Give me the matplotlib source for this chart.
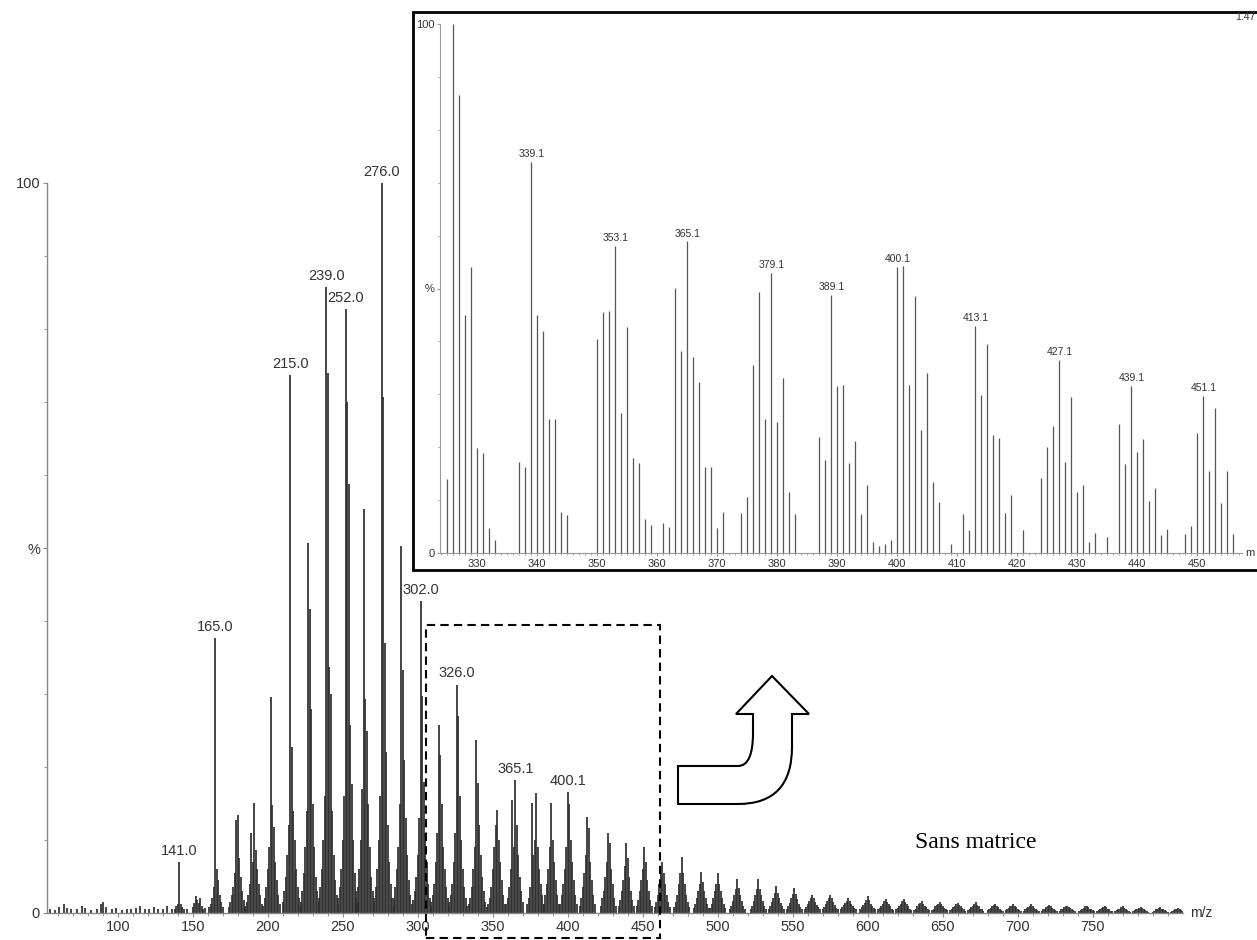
import matplotlib
matplotlib.use('Agg')
import matplotlib.pyplot as plt
import numpy as np
from matplotlib.patches import Rectangle, PathPatch
from matplotlib.path import Path

# ---- main spectrum (Sans matrice) ----
# low-mass baseline noise
noise_mz = [55, 58, 61, 64, 66, 69, 73, 76, 78, 82, 86, 89, 90, 92, 96, 99, 103, 106,
            109, 112, 115, 118, 121, 124, 127, 130, 133, 136, 146, 158]
noise_int = [0.6, 0.4, 0.8, 1.2, 0.7, 0.5, 0.6, 0.9, 0.7, 0.4, 0.6, 1.3, 1.5, 0.8, 0.5,
             0.7, 0.4, 0.6, 0.5, 0.7, 0.9, 0.6, 0.5, 0.8, 0.6, 0.5, 0.9, 0.6, 0.5, 0.7]

# clusters: first m/z of each cluster, then unit-spaced line intensities (%)
cluster_start = [138, 150, 161, 174, 185, 197, 210, 222, 234, 247, 259, 271, 284, 297,
                 309, 321, 334, 347, 359, 373, 384, 395, 408, 422, 434, 446, 458, 471,
                 484, 495, 508, 522, 534, 546, 558, 570, 582, 595, 607, 619, 631, 643,
                 655, 667, 680, 692, 704, 716, 728, 741, 753, 765, 777, 790, 802]
cluster_int = [
    [0.6, 0.9, 1.2, 7.0, 1.3, 0.8, 0.5],
    [0.8, 1.4, 2.3, 1.8, 1.4, 2.0, 1.0, 0.6],
    [0.8, 1.2, 2.0, 3.5, 37.7, 6.0, 4.5, 2.5, 1.5, 0.8],
    [0.8, 1.5, 2.5, 3.5, 5.5, 12.7, 13.4, 7.5, 5.0, 3.0, 1.8, 1.0],
    [0.8, 1.5, 2.5, 4.0, 11.0, 7.0, 15.1, 8.6, 6.0, 4.0, 2.5, 1.2],
    [1.0, 2.0, 3.5, 6.0, 9.0, 29.6, 14.8, 11.8, 7.0, 4.5, 2.5, 1.2],
    [1.5, 3.0, 5.0, 8.0, 12.0, 73.7, 22.7, 14.0, 10.0, 6.0, 3.5, 2.0, 1.0],
    [1.5, 3.0, 5.5, 9.0, 14.0, 50.7, 41.7, 28.0, 15.0, 9.0, 5.0, 3.0, 1.5],
    [2.0, 3.5, 6.0, 10.0, 16.0, 85.7, 74.0, 33.7, 30.0, 14.0, 8.0, 4.5, 2.5, 1.2],
    [2.0, 3.5, 6.0, 10.0, 16.0, 82.7, 70.0, 58.7, 25.7, 17.7, 10.0, 5.5, 3.0, 1.5],
    [2.0, 3.5, 6.0, 10.0, 17.0, 55.3, 29.3, 25.0, 15.0, 9.0, 5.0, 3.0, 1.5],
    [2.0, 3.5, 6.0, 10.0, 16.0, 100.0, 70.7, 37.0, 22.0, 12.0, 7.0, 4.0, 2.0, 1.0],
    [2.0, 3.5, 6.0, 9.0, 15.0, 50.3, 33.3, 21.0, 13.0, 8.0, 4.5, 2.5, 1.2],
    [1.8, 3.0, 5.0, 8.0, 13.0, 42.7, 29.7, 18.0, 11.0, 7.0, 4.0, 2.0, 1.0],
    [1.5, 2.5, 4.0, 7.0, 11.0, 25.7, 21.7, 15.0, 9.0, 6.0, 3.5, 2.0, 1.0],
    [1.5, 2.5, 4.0, 7.0, 11.0, 31.3, 27.0, 16.0, 10.0, 6.0, 3.5, 2.0, 1.0],
    [1.2, 2.0, 3.5, 6.0, 9.0, 23.7, 17.8, 12.0, 8.0, 5.0, 3.0, 1.5, 0.8],
    [1.2, 2.0, 3.5, 6.0, 9.0, 12.0, 14.1, 10.0, 7.0, 4.5, 2.5, 1.2],
    [1.2, 2.0, 3.5, 6.0, 15.5, 9.0, 18.2, 12.0, 8.0, 5.0, 3.0, 1.5],
    [1.2, 2.0, 3.5, 15.1, 8.0, 10.0, 16.4, 9.0, 6.0, 4.0, 2.5, 1.2],
    [1.2, 2.5, 4.0, 6.0, 9.0, 15.1, 10.0, 7.0, 4.5, 2.5, 1.2],
    [1.2, 2.5, 4.0, 6.0, 9.0, 16.6, 15.0, 10.0, 7.0, 4.5, 2.5, 1.2],
    [1.0, 2.0, 3.5, 5.5, 8.0, 13.2, 11.6, 7.0, 4.5, 2.5, 1.2],
    [1.0, 2.0, 3.0, 5.0, 7.0, 11.0, 9.6, 6.0, 4.0, 2.0, 1.0],
    [1.0, 1.8, 3.0, 4.5, 6.5, 9.6, 7.5, 5.0, 3.0, 1.8, 1.0],
    [1.0, 1.8, 3.0, 4.5, 6.0, 9.0, 7.0, 4.5, 3.0, 1.8, 1.0],
    [0.8, 1.5, 2.5, 4.0, 5.5, 7.0, 5.5, 4.0, 2.5, 1.5, 0.8],
    [0.8, 1.5, 2.5, 4.0, 5.5, 7.7, 5.5, 4.0, 2.5, 1.5, 0.8],
    [0.7, 1.2, 2.0, 3.0, 4.0, 5.6, 4.2, 3.0, 2.0, 1.2, 0.7],
    [0.7, 1.2, 2.0, 3.0, 4.0, 5.5, 4.0, 3.0, 2.0, 1.2, 0.7],
    [0.6, 1.0, 1.7, 2.5, 3.3, 4.6, 3.4, 2.5, 1.6, 1.0, 0.6],
    [0.6, 1.0, 1.7, 2.5, 3.3, 4.6, 3.3, 2.4, 1.6, 1.0, 0.6],
    [0.6, 1.0, 1.5, 2.1, 2.8, 3.7, 2.8, 2.0, 1.4, 0.9, 0.5],
    [0.6, 0.9, 1.4, 2.0, 2.6, 3.4, 2.6, 1.9, 1.3, 0.8, 0.5],
    [0.5, 0.8, 1.2, 1.6, 2.0, 2.5, 2.0, 1.5, 1.1, 0.8, 0.5],
    [0.5, 0.8, 1.2, 1.6, 2.0, 2.5, 2.0, 1.5, 1.1, 0.7, 0.5],
    [0.5, 0.8, 1.1, 1.4, 1.7, 2.1, 1.7, 1.3, 1.0, 0.7, 0.5],
    [0.5, 0.8, 1.1, 1.4, 1.8, 2.3, 1.8, 1.3, 1.0, 0.7, 0.5],
    [0.5, 0.7, 1.0, 1.3, 1.6, 1.9, 1.5, 1.2, 0.9, 0.6, 0.4],
    [0.5, 0.7, 1.0, 1.3, 1.6, 1.9, 1.5, 1.2, 0.9, 0.6, 0.4],
    [0.4, 0.6, 0.9, 1.2, 1.4, 1.6, 1.3, 1.0, 0.8, 0.5, 0.4],
    [0.4, 0.6, 0.9, 1.1, 1.3, 1.5, 1.2, 1.0, 0.7, 0.5, 0.4],
    [0.4, 0.6, 0.8, 1.0, 1.2, 1.4, 1.1, 0.9, 0.7, 0.5, 0.3],
    [0.4, 0.6, 0.8, 1.0, 1.2, 1.5, 1.1, 0.9, 0.6, 0.5, 0.3],
    [0.4, 0.5, 0.7, 0.9, 1.1, 1.3, 1.0, 0.8, 0.6, 0.4, 0.3],
    [0.4, 0.5, 0.7, 0.9, 1.0, 1.2, 1.0, 0.8, 0.6, 0.4, 0.3],
    [0.3, 0.5, 0.7, 0.8, 1.0, 1.2, 0.9, 0.7, 0.6, 0.4, 0.3],
    [0.3, 0.5, 0.6, 0.8, 0.9, 1.1, 0.9, 0.7, 0.5, 0.4, 0.3],
    [0.3, 0.5, 0.6, 0.8, 0.9, 1.0, 0.8, 0.7, 0.5, 0.4, 0.3],
    [0.3, 0.4, 0.6, 0.7, 0.9, 1.0, 0.8, 0.6, 0.5, 0.4, 0.3],
    [0.3, 0.4, 0.5, 0.7, 0.8, 0.9, 0.8, 0.6, 0.5, 0.3, 0.3],
    [0.3, 0.4, 0.5, 0.6, 0.8, 0.9, 0.7, 0.6, 0.4, 0.3, 0.2],
    [0.3, 0.4, 0.5, 0.6, 0.7, 0.8, 0.7, 0.5, 0.4, 0.3, 0.2],
    [0.2, 0.3, 0.5, 0.6, 0.7, 0.8, 0.6, 0.5, 0.4, 0.3, 0.2],
    [0.2, 0.3, 0.4, 0.5, 0.6, 0.7, 0.5, 0.4, 0.3],
]
main_labels = [141.0, 165.0, 215.0, 239.0, 252.0, 276.0, 302.0, 326.0, 365.1, 400.1]

# ---- zoomed spectrum (inset) ----
inset_mz = [325, 326, 327, 328, 329, 330, 331, 332, 333,
            337, 338, 339, 340, 341, 342, 343, 344, 345,
            350, 351, 352, 353, 354, 355, 356, 357, 358, 359, 361, 362,
            363, 364, 365, 366, 367, 368, 369, 370, 371,
            374, 375, 376, 377, 378, 379, 380, 381, 382, 383,
            387, 388, 389, 390, 391, 392, 393, 394, 395, 396, 397, 398, 399,
            400, 401, 402, 403, 404, 405, 406, 407, 409, 411, 412,
            413, 414, 415, 416, 417, 418, 419, 421,
            424, 425, 426, 427, 428, 429, 430, 431, 432, 433, 435,
            437, 438, 439, 440, 441, 442, 443, 444, 445,
            448, 449, 450, 451, 452, 453, 454, 455, 456]
inset_int = [13.9, 100, 86.5, 44.9, 54.1, 19.9, 18.9, 4.7, 2.4,
             17.2, 16.2, 74.0, 44.9, 41.9, 25.3, 25.3, 7.8, 7.1,
             40.5, 45.6, 45.7, 58.1, 26.4, 42.7, 17.9, 17.0, 6.4, 5.2, 5.7, 4.9,
             50.1, 38.2, 58.9, 37.0, 32.3, 16.2, 16.2, 4.7, 7.8,
             7.6, 10.5, 35.5, 49.3, 25.3, 53.0, 24.7, 33.1, 11.5, 7.4,
             22.0, 17.6, 48.8, 31.6, 31.8, 17.0, 21.1, 7.3, 12.8, 2.0, 1.4, 1.7, 2.4,
             54.1, 54.2, 31.8, 48.6, 23.3, 34.1, 13.4, 9.6, 1.7, 7.4, 4.4,
             42.9, 29.9, 39.5, 22.4, 21.8, 7.6, 10.9, 4.4,
             14.2, 20.1, 24.0, 36.5, 17.2, 29.4, 11.5, 12.8, 2.0, 3.7, 3.0,
             24.3, 16.8, 31.6, 19.1, 21.5, 9.8, 12.2, 3.4, 4.6,
             3.5, 5.1, 22.6, 29.7, 15.5, 27.4, 9.5, 15.5, 3.5]
inset_labels = [339.1, 353.1, 365.1, 379.1, 389.1, 400.1, 413.1, 427.1, 439.1, 451.1]

W, H = 1257, 940
plt.rcParams['font.family'] = ['Liberation Sans', 'DejaVu Sans']
fig = plt.figure(figsize=(W / 100, H / 100), dpi=100)


def fx(px):
    return px / W


def fy(py):
    return 1 - py / H


# build the main line list
main_mz, main_int = list(noise_mz), list(noise_int)
for s, hs in zip(cluster_start, cluster_int):
    for i, h in enumerate(hs):
        main_mz.append(s + i)
        main_int.append(h)
main_lookup = dict(zip(main_mz, main_int))

ax = fig.add_axes([fx(47), fy(913), fx(1183) - fx(47), fy(183) - fy(913)])
ax.vlines(main_mz, 0, main_int, color='#2e2e2e', lw=1.25)
ax.set_xlim(52.7, 810)
ax.set_ylim(0, 100)
for sp in ['top', 'right']:
    ax.spines[sp].set_visible(False)
for sp in ['left', 'bottom']:
    ax.spines[sp].set_color('#888888')
    ax.spines[sp].set_linewidth(1.0)
ax.set_xticks(np.arange(100, 751, 50))
ax.set_xticks(np.arange(60, 810, 10), minor=True)
ax.set_yticks([0, 50, 100])
ax.set_yticklabels(['0', '%', '100'])
ax.set_yticks(np.arange(10, 100, 10), minor=True)
ax.tick_params(which='both', color='#888888', labelcolor='#333333', labelsize=10.5, pad=2)
ax.tick_params(which='major', length=3)
ax.tick_params(which='minor', length=2)
ax.text(1.006, 0, 'm/z', transform=ax.transAxes, va='center', ha='left',
        fontsize=10, color='#333333')
for m in main_labels:
    h = main_lookup[int(round(m))]
    ax.annotate(f'{m:.1f}', (m, h), xytext=(0, 3), textcoords='offset points',
                ha='center', va='bottom', fontsize=10.5, color='#333333',
                annotation_clip=False)

# dashed zoom box
ax.add_patch(Rectangle((305.3, -3.4), 156, 42.9, fill=False, ec='black', lw=1.5,
                       ls=(0, (4, 2.5)), clip_on=False, zorder=5))

# inset frame (runs off the right edge)
fig.add_artist(Rectangle((fx(413), fy(570)), fx(1330) - fx(413), fy(12) - fy(570),
                         transform=fig.transFigure, fc='white', ec='black', lw=2, zorder=2))

iax = fig.add_axes([fx(440), fy(553), fx(1242) - fx(440), fy(24) - fy(553)], zorder=3)
iax.set_facecolor('none')
iax.vlines(inset_mz, 0, inset_int, color='#555555', lw=0.9)
iax.set_xlim(323.9, 457.5)
iax.set_ylim(0, 100)
for sp in ['top', 'right']:
    iax.spines[sp].set_visible(False)
for sp in ['left', 'bottom']:
    iax.spines[sp].set_color('#999999')
    iax.spines[sp].set_linewidth(0.8)
iax.set_xticks(np.arange(330, 451, 10))
iax.set_xticks(np.arange(324, 458, 1), minor=True)
iax.set_yticks([0, 50, 100])
iax.set_yticklabels(['0', '%', '100'])
iax.set_yticks(np.arange(10, 100, 10), minor=True)
iax.tick_params(which='both', color='#999999', labelcolor='#333333', labelsize=8, pad=1.5)
iax.tick_params(which='major', length=2.5)
iax.tick_params(which='minor', length=1.5)
inset_lookup = dict(zip(inset_mz, inset_int))
for m in inset_labels:
    h = inset_lookup[int(round(m))]
    iax.annotate(f'{m:.1f}', (m, h), xytext=(0, 2), textcoords='offset points',
                 ha='center', va='bottom', fontsize=7.5, color='#333333',
                 annotation_clip=False)
# the source image is cropped at the right: only "1.47" and "m" remain visible
fig.text(fx(1255), fy(17), '1.47', fontsize=7.5, color='#333333', va='center', ha='right')
fig.text(fx(1255), fy(553), 'm', fontsize=8, color='#333333', va='center', ha='right')

# curved arrow pointing from the box to the inset
pts = [(678, 804), (678, 766), (738, 766), (753, 766), (753, 733), (753, 714), (736, 714),
       (772, 676), (809, 714), (792, 714), (792, 747), (792, 804), (738, 804), (678, 804)]
codes = [Path.MOVETO, Path.LINETO, Path.LINETO, Path.CURVE3, Path.CURVE3, Path.LINETO,
         Path.LINETO, Path.LINETO, Path.LINETO, Path.LINETO, Path.LINETO, Path.CURVE3,
         Path.CURVE3, Path.CLOSEPOLY]
arrow = Path([(fx(px), fy(py)) for px, py in pts], codes)
fig.add_artist(PathPatch(arrow, transform=fig.transFigure, fc='white', ec='black', lw=1.5,
                         zorder=4))

fig.text(fx(915), fy(843), 'Sans matrice', family=['Liberation Serif', 'DejaVu Serif'],
         fontsize=17, va='center', ha='left', color='black')

fig.savefig('out.png', dpi=100)
